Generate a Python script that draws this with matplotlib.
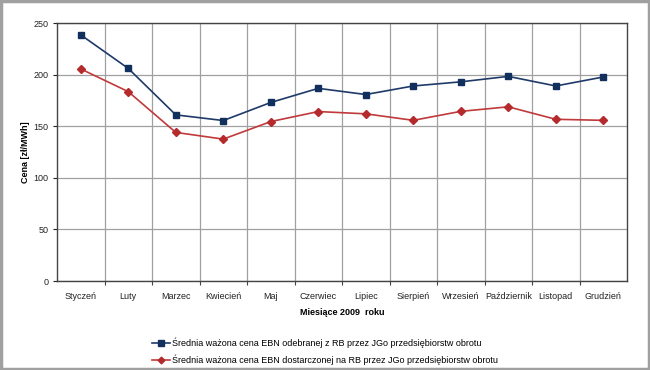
import matplotlib
matplotlib.use("Agg")
import matplotlib.pyplot as plt
from matplotlib.patches import Rectangle
import numpy as np

plt.rcParams['font.family'] = ['Liberation Sans', 'DejaVu Sans']

# Dane
miesiace = ['Styczeń', 'Luty', 'Marzec', 'Kwiecień', 'Maj', 'Czerwiec',
            'Lipiec', 'Sierpień', 'Wrzesień', 'Październik', 'Listopad', 'Grudzień']
cena_odebranej = [238.5, 206, 161, 155.5, 173, 186.7, 180.7, 189, 193, 198.3, 189, 197.7]
cena_dostarczonej = [205.5, 183.5, 144, 137.5, 154.5, 164.2, 162, 155.7, 164.4, 168.8, 156.7, 155.7]

etykieta_1 = 'Średnia ważona cena EBN odebranej z RB przez JGo przedsiębiorstw obrotu'
etykieta_2 = 'Średnia ważona cena EBN dostarczonej na RB przez JGo przedsiębiorstw obrotu'

fig = plt.figure(figsize=(6.5, 3.7), dpi=100)
ax = fig.add_axes([0.0877, 0.2405, 0.877, 0.6973])

x = np.arange(len(miesiace))
ax.plot(x, cena_odebranej, color='#1f3a68', lw=1.2, marker='s', ms=4.5,
        mfc='#12305e', mec='#12305e', label=etykieta_1)
ax.plot(x, cena_dostarczonej, color='#c0393b', lw=1.2, marker='D', ms=4,
        mfc='#b52a2c', mec='#b52a2c', label=etykieta_2)

ax.set_xlim(-0.5, len(miesiace) - 0.5)
ax.set_ylim(0, 250)
ax.set_yticks(range(0, 251, 50))

# granice kategorii jako główne podziałki z siatką
ax.set_xticks(np.arange(0.5, len(miesiace) - 0.5, 1))
ax.set_xticklabels([])
ax.set_xticks(x, minor=True)
ax.set_xticklabels(miesiace, minor=True)
ax.tick_params(axis='x', which='minor', length=0, pad=8, labelsize=6.5, colors='#222222')
ax.tick_params(axis='x', which='major', length=3, color='#444444')
ax.tick_params(axis='y', length=3, labelsize=6.5, colors='#222222', pad=3)

ax.grid(True, which='major', color='#a0a0a0', lw=0.9)
ax.set_axisbelow(True)
for s in ax.spines.values():
    s.set_color('#444444')
    s.set_linewidth(1.0)

ax.set_ylabel('Cena [zł/MWh]', fontsize=6.5, fontweight='bold', labelpad=3)
ax.set_xlabel('Miesiące 2009  roku', fontsize=6.5, fontweight='bold', labelpad=5)

fig.legend(loc='upper left', bbox_to_anchor=(0.228, 0.098), frameon=False,
           fontsize=6.5, handlelength=2.0, handletextpad=0.2, labelspacing=0.75,
           markerscale=0.85, borderaxespad=0)

# szara ramka wokół całego rysunku
fig.patches.append(Rectangle((0.002, 0.004), 0.996, 0.993, transform=fig.transFigure,
                             fill=False, edgecolor='#a0a0a0', lw=2.5))

fig.savefig('out.png', dpi=100)
